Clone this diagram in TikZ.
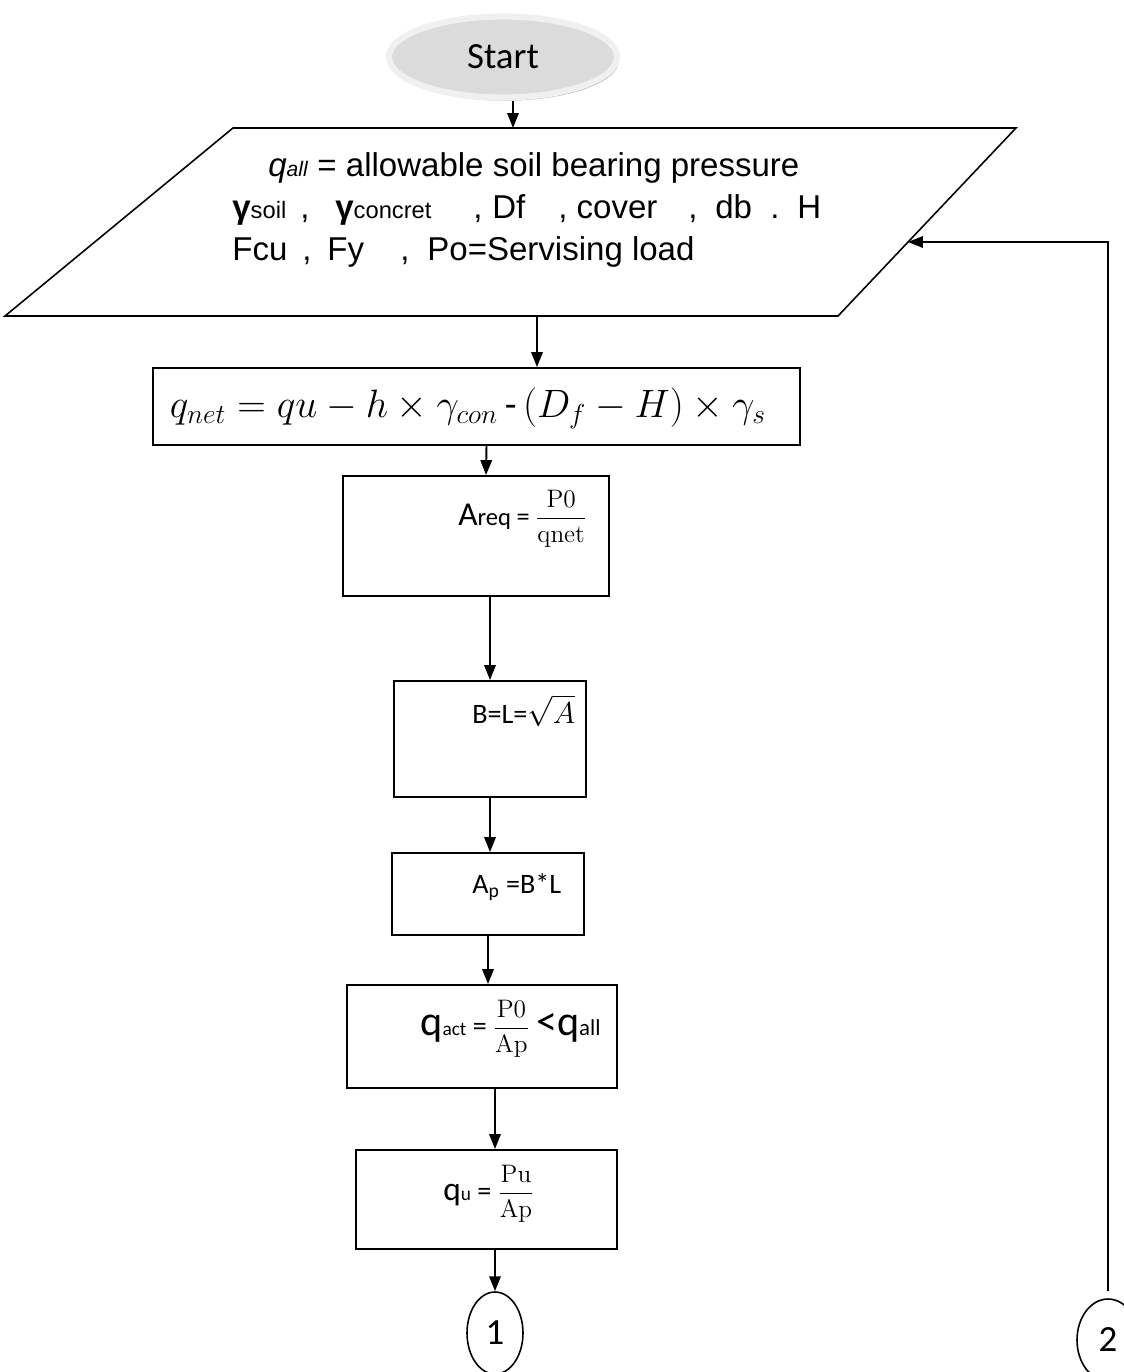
\documentclass[tikz,border=0pt]{standalone}
\usepackage{amsmath}
\usepackage{graphicx}
\usepackage[no-math]{fontspec}
\setmainfont{Carlito}
\newfontfamily\arialfont{Liberation Sans}
\usetikzlibrary{positioning,shapes.geometric,arrows.meta,shadows}
\newlength\pxu
\setlength\pxu{0.02cm}
\newcommand{\at}[2]{\makebox[#1\pxu][l]{#2}}
\newcommand{\fr}[2]{{\fontsize{14}{16}\selectfont$\dfrac{\mathrm{#1}}{\mathrm{#2}}$}}
\tikzset{
  startnode/.style={ellipse,fill=black!14,draw=black!6,line width=3.5pt,
    minimum width=228*\pxu,minimum height=81*\pxu,
    drop shadow={shadow xshift=1.2pt,shadow yshift=-1.8pt,fill=black!55},
    font=\fontsize{21}{25}\selectfont},
  procbox/.style={rectangle,draw=black,line width=1.1pt,inner sep=0pt},
  conn/.style={ellipse,draw=black,line width=0.9pt,inner sep=0pt,
    minimum width=56*\pxu,minimum height=82*\pxu,font=\fontsize{21}{25}\selectfont},
  arrow/.style={-{Triangle[length=8.5pt,width=6.5pt]},draw=black,line width=1.1pt},
  intext/.style={font=\arialfont\fontsize{18.8}{22}\selectfont,anchor=base west,inner sep=0pt},
  boxtext/.style={font=\fontsize{17}{20}\selectfont,anchor=base west,inner sep=0pt}
}

\begin{document}
\begin{tikzpicture}[x=0.02cm,y=-0.02cm]
  \useasboundingbox (0,0) rectangle (1124,1372);

  % start
  \node[startnode] (start) at (503,57) {Start};

  % input data
  \coordinate (pTL) at (233,128);
  \coordinate (pTR) at (1016,128);
  \coordinate (pBR) at (838,316);
  \coordinate (pBL) at (5,316);
  \draw[line width=0.9pt] (pTL) -- (pTR) -- (pBR) -- (pBL) -- cycle;
  \node[intext] (in1) at (268,176)
    {\textit{q{\fontsize{12}{14}\selectfont all}} = allowable soil bearing pressure};
  \node[intext] (in2) at (232,218)
    {\at{68}{\textbf{γ}{\fontsize{13.5}{16}\selectfont soil}}\at{35}{,}\at{138}{\textbf{γ}{\fontsize{13.5}{16}\selectfont concret}}\at{19}{,}\at{66}{Df}\at{130}{, cover}\at{27}{,}\at{55}{db}\at{27}{.}H};
  \node[intext] (in3) at (232,260)
    {\at{70}{Fcu}\at{25}{,}\at{73}{Fy}\at{27}{,}Po=Servising load};
  \coordinate (pOut) at (537,316);
  \coordinate (loopIn) at (908,242);

  % process boxes
  \node[procbox,minimum width=647*\pxu,minimum height=77*\pxu] (qnet) at (476.5,406.5) {};
  \node[boxtext,font=\fontsize{20}{24}\selectfont,anchor=center] (qnettxt) at (468,408)
    {\resizebox{596\pxu}{!}{$q_{net} = qu - h \times \gamma_{con}\,\text{-}\,(D_f - H) \times \gamma_s$}};

  \node[procbox,minimum width=266*\pxu,minimum height=120*\pxu] (areq) at (476,536) {};
  \node[boxtext,font=\fontsize{19}{22}\selectfont] (areqtxt) at (458,525)
    {A{\fontsize{14}{16}\selectfont req}\,{\fontsize{15}{18}\selectfont =}\,\fr{P0}{qnet}};

  \node[procbox,minimum width=192*\pxu,minimum height=116*\pxu] (bl) at (490,739) {};
  \node[boxtext,font=\fontsize{16}{19}\selectfont] (bltxt) at (472,723) {B=L=$\sqrt{A}$};

  \node[procbox,minimum width=192*\pxu,minimum height=82*\pxu] (ap) at (488,894) {};
  \node[boxtext,font=\fontsize{16}{19}\selectfont] (aptxt) at (472,893) {A\textsubscript{p} =B*L};

  \node[procbox,minimum width=270*\pxu,minimum height=103*\pxu] (qact) at (482,1036.5) {};
  \node[boxtext,font=\fontsize{16}{19}\selectfont] (qacttxt) at (420,1035)
    {{\fontsize{24}{28}\selectfont q}{\fontsize{11}{13}\selectfont act} = \fr{P0}{Ap}\ {\fontsize{24}{28}\selectfont <q}{\fontsize{13}{15}\selectfont all}};

  \node[procbox,minimum width=261*\pxu,minimum height=99*\pxu] (qu) at (486.5,1199.5) {};
  \node[boxtext,font=\fontsize{16}{19}\selectfont] (qutxt) at (443,1200)
    {{\fontsize{19}{23}\selectfont q}{\fontsize{11}{13}\selectfont u} = \fr{Pu}{Ap}};

  % connectors
  \node[conn] (c1) at (495,1333) {1};
  \node[conn,minimum width=62*\pxu] (c2) at (1108,1340) {2};

  \draw[arrow] ([xshift=10*\pxu]start.south) -- ([xshift=10*\pxu]start.south |- pTL);
  \draw[arrow] (pOut) -- (pOut |- qnet.north);
  \draw[arrow] ([xshift=10*\pxu]qnet.south) -- ([xshift=10*\pxu]areq.north);
  \draw[arrow] (bl.north |- areq.south) -- (bl.north);
  \draw[arrow] (bl.south) -- (bl.south |- ap.north);
  \draw[arrow] (ap.south) -- (ap.south |- qact.north);
  \draw[arrow] (c1.north |- qact.south) -- (c1.north |- qu.north);
  \draw[arrow] (c1.north |- qu.south) -- (c1.north);
  \draw[arrow] ([yshift=7*\pxu]c2.north) |- (loopIn);
\end{tikzpicture}
\end{document}
